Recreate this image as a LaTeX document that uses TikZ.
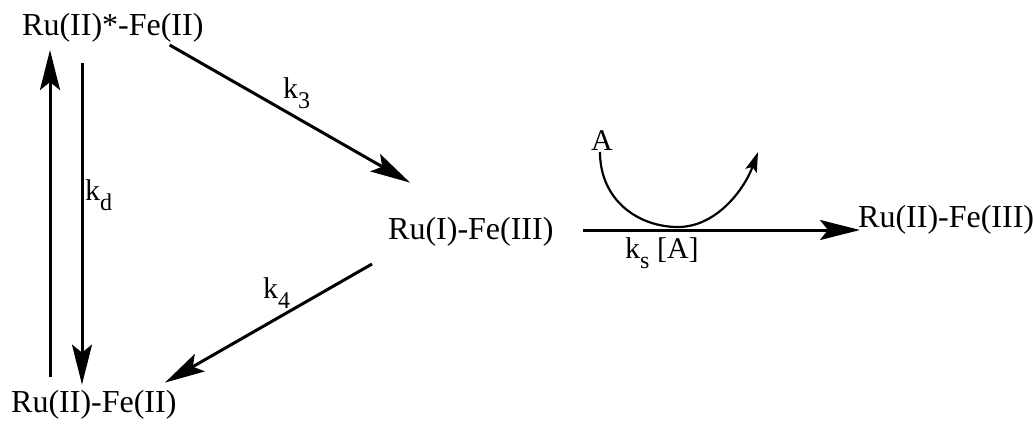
\documentclass[tikz,border=0pt]{standalone}
\usepackage{fontspec}
\setmainfont{Liberation Serif}
\usetikzlibrary{calc, arrows.meta}
\newcommand{\chemsub}[1]{\raisebox{-10pt}{\fontsize{24}{24}\selectfont #1}}

\begin{document}
\begin{tikzpicture}[
  x=1pt, y=-1pt,
  species/.style={font=\fontsize{32}{36}\selectfont, inner sep=0pt, anchor=base west},
  rate/.style={font=\fontsize{30}{34}\selectfont, inner sep=0pt, anchor=base west},
  rxn/.style={-{Stealth[length=40pt, width=20pt, inset=8pt]}, line width=3pt},
  swoop/.style={-{Stealth[length=20pt, width=12pt, inset=4pt]}, line width=2.2pt}]
\useasboundingbox (0,0) rectangle (1033,423);
% species
\node[species] (exc) at (22,35) {Ru(II)*-Fe(II)};
\node[species] (gnd) at (11,412) {Ru(II)-Fe(II)};
\node[species] (red) at (388,239) {Ru(I)-Fe(III)};
\node[species] (prod) at (858,227) {Ru(II)-Fe(III)};
\node[rate, anchor=base] (acc) at (602,150) {A};
% rate constants
\node[rate] (k3) at (283,98) {k\chemsub{3}};
\node[rate] (kd) at (85,200) {k\chemsub{d}};
\node[rate] (k4) at (263,298) {k\chemsub{4}};
\node[rate] (ks) at (625,258) {k\chemsub{s} [A]};
% arrows
\draw[rxn] ($(gnd.north west)+(39,-13)$) -- ($(exc.south west)+(28,8)$);
\draw[rxn] ($(exc.south west)+(60,21)$) -- ($(gnd.north west)+(71,-5)$);
\draw[rxn] ($(exc.south east)+(-34,3)$) -- ($(red.north west)+(22,-34)$);
\draw[rxn] ($(red.south west)+(-16,18)$) -- ($(gnd.north west)+(154,-7)$);
\draw[rxn] ($(red.base west)+(195,-9)$) -- ($(prod.base west)+(2,3)$);
\coordinate (atip) at (758,152);
\draw[swoop] ($(acc.base)+(-2,2)$) .. controls (600,200) and (638,227) .. (678,227)
  .. controls (716,227) and (744,190) .. (atip);
\end{tikzpicture}
\end{document}
